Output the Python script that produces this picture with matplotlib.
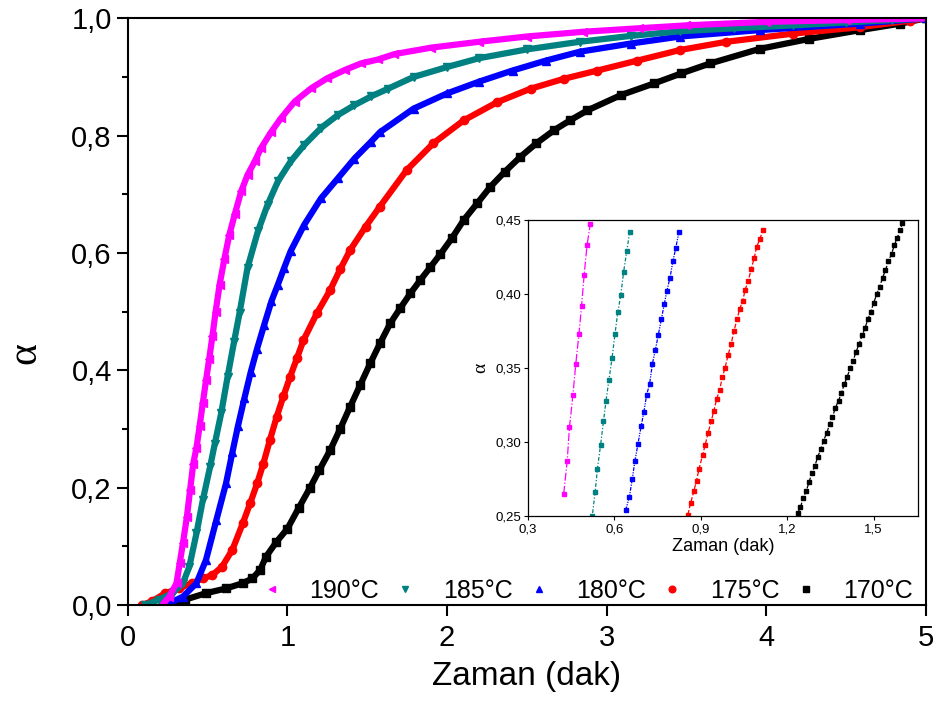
import numpy as np
import matplotlib
matplotlib.use('Agg')
import matplotlib.pyplot as plt
from matplotlib.ticker import FuncFormatter, MultipleLocator

plt.rcParams['font.family'] = ['Liberation Sans', 'DejaVu Sans']

# ana grafik verileri (zaman dak, alfa)
t190 = [0.215, 0.26, 0.305, 0.325, 0.345, 0.37, 0.39, 0.41, 0.43, 0.45,
        0.47, 0.49, 0.51, 0.53, 0.55, 0.575, 0.605, 0.635, 0.67, 0.71,
        0.75, 0.795, 0.835, 0.9, 0.96, 1.045, 1.15, 1.25, 1.36, 1.46,
        1.57, 1.67, 1.9, 2.2, 2.5, 2.85, 3.2, 3.5, 4.0, 4.5, 5.0]
a190 = [0.0, 0.014, 0.037, 0.071, 0.105, 0.150, 0.196, 0.241, 0.268, 0.305,
        0.345, 0.383, 0.420, 0.458, 0.500, 0.546, 0.590, 0.630, 0.666, 0.705,
        0.733, 0.756, 0.779, 0.807, 0.830, 0.858, 0.881, 0.898, 0.912, 0.923,
        0.930, 0.939, 0.950, 0.960, 0.969, 0.977, 0.983, 0.988, 0.994, 0.997, 1.0]

t185 = [0.11, 0.195, 0.28, 0.345, 0.385, 0.43, 0.47, 0.515, 0.545, 0.585,
        0.625, 0.665, 0.70, 0.75, 0.815, 0.875, 0.94, 1.02, 1.105, 1.21,
        1.315, 1.42, 1.525, 1.63, 1.79, 2.0, 2.2, 2.5, 2.83, 3.15,
        3.46, 3.8, 4.17, 4.5, 4.79, 5.0]
a185 = [0.0, 0.009, 0.020, 0.037, 0.065, 0.122, 0.179, 0.235, 0.275, 0.327,
        0.389, 0.448, 0.498, 0.575, 0.637, 0.682, 0.722, 0.756, 0.784, 0.813,
        0.835, 0.852, 0.867, 0.880, 0.900, 0.917, 0.932, 0.947, 0.960, 0.970,
        0.978, 0.983, 0.988, 0.993, 0.997, 1.0]

t180 = [0.24, 0.345, 0.43, 0.49, 0.555, 0.615, 0.655, 0.69, 0.73, 0.77,
        0.81, 0.855, 0.9, 0.94, 0.98, 1.02, 1.105, 1.21, 1.315, 1.42,
        1.525, 1.58, 1.79, 2.0, 2.2, 2.41, 2.62, 2.83, 3.15, 3.46,
        3.96, 4.59, 5.0]
a180 = [0.0, 0.014, 0.037, 0.077, 0.145, 0.207, 0.260, 0.305, 0.352, 0.397,
        0.437, 0.478, 0.518, 0.546, 0.575, 0.603, 0.648, 0.693, 0.727, 0.761,
        0.790, 0.806, 0.846, 0.872, 0.892, 0.911, 0.928, 0.943, 0.957, 0.969,
        0.980, 0.991, 1.0]

t175 = [0.09, 0.15, 0.235, 0.32, 0.40, 0.47, 0.53, 0.59, 0.655, 0.72,
        0.766, 0.81, 0.849, 0.89, 0.933, 0.975, 1.017, 1.06, 1.10, 1.184,
        1.268, 1.33, 1.393, 1.49, 1.579, 1.746, 1.914, 2.104, 2.314, 2.523,
        2.733, 2.942, 3.193, 3.46, 3.75, 4.17, 4.59, 4.9, 5.0]
a175 = [0.0, 0.006, 0.020, 0.028, 0.037, 0.045, 0.051, 0.065, 0.094, 0.139,
        0.173, 0.207, 0.241, 0.281, 0.321, 0.356, 0.389, 0.421, 0.451, 0.497,
        0.537, 0.572, 0.605, 0.645, 0.679, 0.741, 0.787, 0.826, 0.857, 0.880,
        0.897, 0.911, 0.928, 0.946, 0.960, 0.974, 0.985, 0.996, 1.0]

t170 = [0.27, 0.36, 0.49, 0.615, 0.72, 0.78, 0.83, 0.865, 0.93, 1.0,
        1.07, 1.142, 1.2, 1.268, 1.33, 1.393, 1.456, 1.519, 1.58, 1.644,
        1.707, 1.77, 1.833, 1.896, 1.958, 2.03, 2.104, 2.19, 2.272, 2.36,
        2.46, 2.56, 2.669, 2.77, 2.879, 3.088, 3.297, 3.466, 3.647, 3.96,
        4.27, 4.59, 4.84, 5.0]
a170 = [0.0, 0.009, 0.020, 0.028, 0.037, 0.045, 0.060, 0.082, 0.107, 0.13,
        0.165, 0.20, 0.23, 0.264, 0.30, 0.338, 0.375, 0.412, 0.446, 0.480,
        0.506, 0.531, 0.554, 0.576, 0.598, 0.625, 0.656, 0.685, 0.713, 0.738,
        0.764, 0.787, 0.809, 0.826, 0.843, 0.869, 0.889, 0.906, 0.923, 0.948,
        0.965, 0.980, 0.991, 1.0]

# ic grafik verileri
it190 = [0.424, 0.436, 0.444, 0.456, 0.466, 0.477, 0.486, 0.495, 0.505, 0.516]
ia190 = [0.265, 0.287, 0.310, 0.332, 0.353, 0.373, 0.392, 0.413, 0.433, 0.447]
it185 = [0.523, 0.533, 0.541, 0.552, 0.562, 0.571, 0.581, 0.592, 0.602, 0.612,
         0.622, 0.632, 0.643, 0.653]
ia185 = [0.250, 0.266, 0.282, 0.298, 0.314, 0.328, 0.342, 0.357, 0.373, 0.388,
         0.399, 0.415, 0.429, 0.442]
it180 = [0.639, 0.652, 0.662, 0.671, 0.682, 0.693, 0.702, 0.712, 0.722, 0.732,
         0.742, 0.752, 0.763, 0.773, 0.782, 0.793, 0.803, 0.813, 0.824]
ia180 = [0.254, 0.263, 0.275, 0.287, 0.299, 0.311, 0.320, 0.332, 0.339, 0.353,
         0.362, 0.372, 0.383, 0.393, 0.402, 0.411, 0.422, 0.431, 0.442]
it175 = [0.855, 0.865, 0.876, 0.885, 0.894, 0.906, 0.915, 0.925, 0.936, 0.945,
         0.955, 0.965, 0.975, 0.984, 0.995, 1.005, 1.015, 1.026, 1.035, 1.045,
         1.054, 1.065, 1.075, 1.085, 1.094, 1.105, 1.115]
ia175 = [0.251, 0.259, 0.267, 0.274, 0.282, 0.291, 0.298, 0.306, 0.314, 0.321,
         0.329, 0.335, 0.344, 0.350, 0.359, 0.366, 0.375, 0.383, 0.390, 0.395,
         0.403, 0.409, 0.417, 0.424, 0.432, 0.437, 0.443]
it170 = [1.236, 1.246, 1.255, 1.266, 1.276, 1.285, 1.296, 1.306, 1.316, 1.326,
         1.337, 1.347, 1.357, 1.367, 1.378, 1.388, 1.398, 1.408, 1.419, 1.429,
         1.439, 1.449, 1.460, 1.470, 1.480, 1.490, 1.500, 1.511, 1.521, 1.531,
         1.541, 1.551, 1.562, 1.572, 1.582, 1.592, 1.600]
ia170 = [0.252, 0.256, 0.262, 0.267, 0.273, 0.279, 0.284, 0.290, 0.295, 0.301,
         0.306, 0.312, 0.317, 0.323, 0.328, 0.333, 0.339, 0.344, 0.350, 0.355,
         0.361, 0.366, 0.372, 0.377, 0.383, 0.388, 0.394, 0.400, 0.405, 0.411,
         0.416, 0.422, 0.427, 0.433, 0.438, 0.443, 0.448]

labels = ['190°C', '185°C', '180°C', '175°C', '170°C']
colors = ['#ff00ff', '#008080', '#0000ff', '#ff0000', '#000000']
markers = ['<', 'v', '^', 'o', 's']
main_t = [t190, t185, t180, t175, t170]
main_a = [a190, a185, a180, a175, a170]
ins_t = [it190, it185, it180, it175, it170]
ins_a = [ia190, ia185, ia180, ia175, ia170]
ins_ls = ['-.', (0, (1, 1.5, 3, 1.5)), (0, (3, 1, 1, 1, 1, 1)), '--', '--']

comma = lambda fmt: FuncFormatter(lambda v, p: (fmt % v).replace('.', ','))

fig = plt.figure(figsize=(9.4, 7.05), dpi=100)
ax = fig.add_axes([0.136, 0.142, 0.849, 0.832])

# ciz: son seri (170) en altta kalsin
for t, a, c, m, lb in reversed(list(zip(main_t, main_a, colors, markers, labels))):
    ax.plot(t, a, color=c, lw=4.5, zorder=2, solid_capstyle='butt')
    ax.plot(t, a, ls='none', marker=m, ms=6, color=c, mec=c, label=lb, zorder=2)

ax.set_xlim(0, 5)
ax.set_ylim(0, 1.0)
ax.xaxis.set_major_locator(MultipleLocator(1))
ax.yaxis.set_major_locator(MultipleLocator(0.2))
ax.yaxis.set_minor_locator(MultipleLocator(0.1))
ax.yaxis.set_major_formatter(comma('%.1f'))
ax.tick_params(which='major', length=8, width=1.5, labelsize=21, direction='out')
ax.tick_params(which='minor', length=4.5, width=1.5, direction='out')
ax.tick_params(axis='x', pad=6)
for s in ax.spines.values():
    s.set_linewidth(1.5)
    s.set_zorder(5)
ax.set_xlabel('Zaman (dak)', fontsize=24, labelpad=6)
ax.set_ylabel('α', fontsize=30, family='Liberation Serif')
ax.yaxis.set_label_coords(-0.105, 0.43)

handles, labs = ax.get_legend_handles_labels()
handles, labs = handles[::-1], labs[::-1]
leg = ax.legend(handles, labs, loc='lower right', bbox_to_anchor=(1.012, -0.035), ncol=5,
                frameon=False, fontsize=18, handlelength=1.0, handletextpad=1.0,
                columnspacing=0.55, markerscale=0.8)

# ic grafik
ins = fig.add_axes([0.5617, 0.268, 0.4149, 0.420])
ins.set_facecolor('white')
for t, a, c, ls in zip(ins_t, ins_a, colors, ins_ls):
    ins.plot(t, a, color=c, ls=ls, lw=0.9, marker='s', ms=3.5, mec=c)
ins.set_xlim(0.3, 1.654)
ins.set_ylim(0.25, 0.45)
ins.set_xticks([0.3, 0.6, 0.9, 1.2, 1.5])
ins.set_yticks([0.25, 0.30, 0.35, 0.40, 0.45])
ins.xaxis.set_major_formatter(comma('%.1f'))
ins.yaxis.set_major_formatter(comma('%.2f'))
ins.tick_params(length=3, width=0.8, labelsize=9.5, pad=2, direction='out')
for s in ins.spines.values():
    s.set_linewidth(0.9)
ins.set_xlabel('Zaman (dak)', fontsize=13, labelpad=2)
ins.set_ylabel('α', fontsize=14, family='Liberation Serif', labelpad=4)

fig.savefig('out.png', dpi=100)
